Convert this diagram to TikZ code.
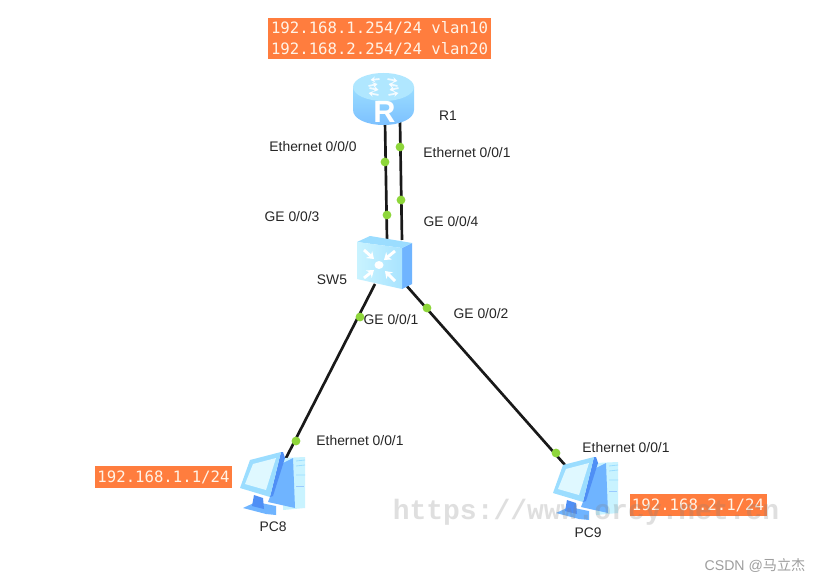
\documentclass[tikz,border=0pt]{standalone}
\usepackage{fontspec}
\setmainfont{Liberation Sans}
\newfontfamily\labelmono{DejaVu Sans Mono}
\newfontfamily\markmono{Liberation Mono}
\newfontfamily\cjkfont{Noto Sans CJK SC}
\usetikzlibrary{arrows.meta}
\definecolor{tagfill}{HTML}{FF7D3E}
\definecolor{tagtext}{HTML}{FFF3E6}
\definecolor{portgreen}{HTML}{8ED63A}
\definecolor{devlight}{HTML}{C9F3FF}
\definecolor{devmid}{HTML}{9BDDFF}
\definecolor{devblue}{HTML}{6FB4FF}
\definecolor{devdeep}{HTML}{4F8FF5}
\tikzset{
  port/.style={circle,fill=portgreen,draw=none,minimum size=6.6pt,inner sep=0pt},
  portlabel/.style={font=\fontsize{10.4pt}{12pt}\selectfont,text=black!85,inner sep=0pt},
  tag/.style={fill=tagfill,text=tagtext,font=\labelmono\fontsize{11.75pt}{15.4pt}\selectfont,inner sep=0pt,align=left},
  link/.style={draw=black!90,line width=2pt},
  glyph/.style={draw=white,line width=1.3pt,opacity=.8,-{Stealth[length=3.5pt,width=4.5pt]}},
  swglyph/.style={draw=white,line width=2.2pt,-{Stealth[length=5pt,width=7pt]}},
}
\newcommand{\pcicon}{%
  % tower
  \fill[devlight] (283,458) -- (305,457) -- (305,508) -- (283,510) -- cycle;
  \fill[devblue] (283,463) -- (293,458) -- (295,508) -- (268,502) -- cycle;
  \draw[devblue!70,line width=.6pt] (296,486)--(304,486);
  \draw[devmid,line width=.6pt] (296,461)--(305,460) (296,466)--(305,465) (296,475)--(305,475);
  % stand
  \fill[devblue] (243,508) -- (256,502) -- (276,506) -- (276,515) -- (266,514) -- cycle;
  \fill[devdeep] (254,495) -- (263,498) -- (264,509) -- (252,506) -- cycle;
  % monitor
  \fill[devdeep] (281,452) -- (283,452) -- (285,458) -- (273,496) -- (270,497) -- cycle;
  \fill[devmid] (250,460) -- (281,452) -- (270,497) -- (240,488) -- cycle;
  \fill[devlight!60!white] (253,464) -- (276,458) -- (266,490) -- (245,484) -- cycle;
}
\begin{document}
\begin{tikzpicture}[x=0.75pt,y=-0.75pt]
\useasboundingbox (0,0) rectangle (817,581);
\fill[white] (0,0) rectangle (817,581);

% connector ends
\coordinate (r1a) at (385,122);
\coordinate (r1b) at (400,122);
\coordinate (swa) at (387,240);
\coordinate (swb) at (402,240);
\coordinate (swc) at (375,284);
\coordinate (swd) at (405,284);
\coordinate (pc8end) at (285,460);
\coordinate (pc9end) at (565,465);

% links
\draw[link] (r1a) -- (swa);
\draw[link] (r1b) -- (swb);
\draw[link] (swc) -- (pc8end);
\draw[link] (swd) -- (pc9end);

% router R1
\shade[top color=devmid,bottom color=devblue!70!devmid]
  (353,87) -- (353,110) .. controls (353,119) and (367,125) .. (383.5,125)
  .. controls (400,125) and (414,119) .. (414,110) -- (414,87) -- cycle;
\fill[devmid!55!devlight] (383.5,87) ellipse[x radius=30.5,y radius=14];
\begin{scope}[shift={(383.5,87)}]
  \draw[glyph] (-4,-8) -- (-13,-7);
  \draw[glyph] (-15,-1) -- (-6,-3);
  \draw[glyph] (4,-8) -- (14,-6);
  \draw[glyph] (14,-1) -- (5,-3);
  \draw[glyph] (-5,8) -- (-15,6);
  \draw[glyph] (-14,1) -- (-5,3);
  \draw[glyph] (5,8) -- (15,6);
  \draw[glyph] (15,1) -- (6,3);
\end{scope}
\node[font=\bfseries\fontsize{23pt}{23pt}\selectfont,text=white,inner sep=0pt] (rletter) at (384.5,112) {R};

% switch SW5
\fill[devblue] (402,248) -- (412,243) -- (412,284) -- (402,289) -- cycle;
\fill[devmid] (357,242) -- (370,236) -- (412,243) -- (402,248) -- cycle;
\shade[left color=devlight,right color=devmid!70!devlight] (357,242) -- (402,248) -- (402,289) -- (357,279) -- cycle;
\fill[white] (379,265) ellipse[x radius=4.5,y radius=4];
\begin{scope}[shift={(379,265)}]
  \draw[swglyph] (-15,-15) -- (-5,-6);
  \draw[swglyph] (16,-14) -- (5,-5);
  \draw[swglyph] (-15,13) -- (-5,5);
  \draw[swglyph] (16,16) -- (6,6);
\end{scope}

% PCs
\pcicon
\begin{scope}[shift={(313,5)}]
  \pcicon
\end{scope}

% port dots
\foreach \n/\p in {p1/{385,162},p2/{387,215},p3/{400,147},p4/{401,200},p5/{360,317},p6/{296,441},p7/{427,308},p8/{556,453}}{
  \node[port] (\n) at (\p) {};
}

% labels
\node[portlabel] (l1) at (313,146.5) {Ethernet 0/0/0};
\node[portlabel] (l2) at (467,152.5) {Ethernet 0/0/1};
\node[portlabel] (l3) at (292,216.5) {GE 0/0/3};
\node[portlabel] (l4) at (451,221.5) {GE 0/0/4};
\node[portlabel] (l5) at (391,319.5) {GE 0/0/1};
\node[portlabel] (l6) at (481,313.5) {GE 0/0/2};
\node[portlabel] (l7) at (360,440.5) {Ethernet 0/0/1};
\node[portlabel] (l8) at (626,447.5) {Ethernet 0/0/1};
\node[portlabel] (R1) at (448,116) {R1};
\node[portlabel] (SW5) at (332,280) {SW5};
\node[portlabel] (PC8) at (273,526.5) {PC8};
\node[portlabel] (PC9) at (588,533) {PC9};

% address tags
\node[tag,minimum width=223*0.75pt,minimum height=41*0.75pt] (t1) at (379.5,38.5)
  {192.168.1.254/24 vlan10\\192.168.2.254/24 vlan20};
\node[tag,minimum width=137*0.75pt,minimum height=22*0.75pt] (t2) at (163.5,477) {192.168.1.1/24};
\node[tag,minimum width=137*0.75pt,minimum height=22*0.75pt] (t3) at (698,505) {192.168.2.1/24};

% watermarks
\node[font=\markmono\bfseries\fontsize{21pt}{21pt}\selectfont,text=gray,opacity=.25,inner sep=0pt] (wm) at (586,512) {https://www.orcy.net.cn};
\node[font=\fontsize{10.6pt}{12pt}\selectfont,text=black!38,inner sep=0pt] (csdn) at (755,565) {CSDN @{\cjkfont 马立杰}};
\end{tikzpicture}
\end{document}
